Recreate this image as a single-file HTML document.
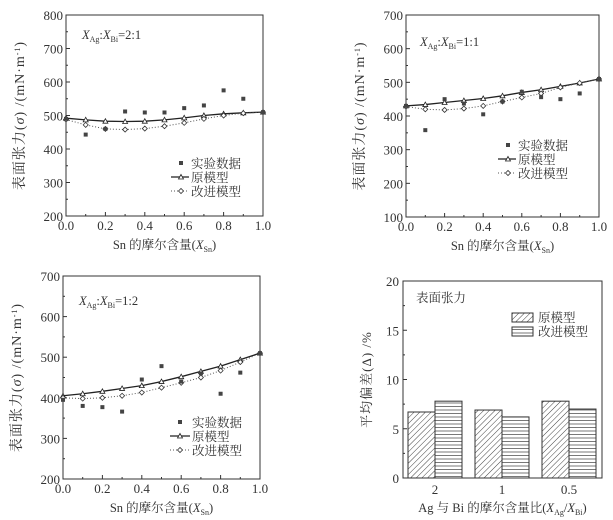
<!DOCTYPE html>
<html><head><meta charset="utf-8"><style>
html,body{margin:0;padding:0;background:#fff;}
svg{display:block;font-family:"Liberation Serif","Noto Serif CJK SC",serif;}
</style></head><body>
<svg id="s" width="613" height="520" xmlns="http://www.w3.org/2000/svg">
<defs>
<pattern id="diag" width="4" height="4" patternUnits="userSpaceOnUse" patternTransform="rotate(45)"><rect width="4" height="4" fill="#fff"/><line x1="0" y1="0" x2="0" y2="4" stroke="#444" stroke-width="1"/></pattern>
<pattern id="hor" width="4" height="3.5" patternUnits="userSpaceOnUse"><rect width="4" height="3.5" fill="#fff"/><line x1="0" y1="0.5" x2="4" y2="0.5" stroke="#555" stroke-width="0.8"/></pattern>
</defs>
</svg>
<script>
const S=document.getElementById('s');let h='';
function panel(o){
 const {x0,x1,y0,y1,ymin,ymax,exp,orig,imp,lab,leg}=o;
 const X=v=>x0+(x1-x0)*v, Y=v=>y1-(y1-y0)*(v-ymin)/(ymax-ymin);
 h+=`<rect x="${x0}" y="${y0}" width="${x1-x0}" height="${y1-y0}" fill="none" stroke="#333" stroke-width="1"/>`;
 for(let i=0;i<=10;i++){let xx=X(i/10);h+=`<line x1="${xx}" y1="${y1}" x2="${xx}" y2="${y1-(i%2?2:4)}" stroke="#333"/>`;
  if(i%2==0)h+=`<text x="${xx}" y="${y1+14}" font-size="13" text-anchor="middle" fill="#333">${(i/10).toFixed(1)}</text>`;}
 for(let v=ymin;v<=ymax;v+=50){let yy=Y(v);h+=`<line x1="${x0}" y1="${yy}" x2="${x0+(v%100?2:4)}" y2="${yy}" stroke="#333"/>`;
  if(v%100==0)h+=`<text x="${x0-3}" y="${yy+5}" font-size="13" text-anchor="end" fill="#333">${v}</text>`;}
 h+=`<text x="${(x0+x1)/2}" y="${y1+33}" font-size="12.5" text-anchor="middle" fill="#333">Sn 的摩尔含量(<tspan font-style="italic">X</tspan><tspan font-size="8" dy="3">Sn</tspan><tspan dy="-3">)</tspan></text>`;
 h+=`<text transform="translate(${x0-42},${(y0+y1)/2}) rotate(-90)" font-size="14" letter-spacing="1" text-anchor="middle" fill="#333">表面张力(<tspan font-style="italic">σ</tspan>) /(mN·m<tspan font-size="8" dy="-4">-1</tspan><tspan dy="4">)</tspan></text>`;
 h+=`<text x="${lab[0]}" y="${lab[1]}" font-size="12.5" fill="#333"><tspan font-style="italic">X</tspan><tspan font-size="8" dy="3">Ag</tspan><tspan dy="-3">:</tspan><tspan font-style="italic">X</tspan><tspan font-size="8" dy="3">Bi</tspan><tspan dy="-3">=${lab[2]}</tspan></text>`;
 let p=orig.map((v,i)=>X(i/10)+','+Y(v)).join(' ');
 h+=`<polyline points="${p}" fill="none" stroke="#222" stroke-width="1.3"/>`;
 let q=imp.map((v,i)=>X(i/10)+','+Y(v)).join(' ');
 h+=`<polyline points="${q}" fill="none" stroke="#555" stroke-width="1" stroke-dasharray="1,2"/>`;
 orig.forEach((v,i)=>{let a=X(i/10),b=Y(v);h+=`<path d="M${a-2.5},${b+2} L${a},${b-2.5} L${a+2.5},${b+2} Z" fill="#fff" stroke="#222" stroke-width="0.8"/>`;});
 imp.forEach((v,i)=>{let a=X(i/10),b=Y(v);h+=`<path d="M${a-2.5},${b} L${a},${b-2.5} L${a+2.5},${b} L${a},${b+2.5} Z" fill="#fff" stroke="#333" stroke-width="0.8"/>`;});
 exp.forEach(([u,v])=>{h+=`<rect x="${X(u)-2}" y="${Y(v)-2}" width="4" height="4" fill="#444"/>`;});
 const [lx,ly,tx]=leg;
 h+=`<rect x="${lx-2}" y="${ly-2}" width="4" height="4" fill="#444"/><text x="${tx}" y="${ly+5}" font-size="12.5" fill="#333">实验数据</text>`;
 h+=`<line x1="${lx-10}" y1="${ly+14}" x2="${tx-2}" y2="${ly+14}" stroke="#222" stroke-width="1.3"/><path d="M${lx-2.5},${ly+16} L${lx},${ly+11.5} L${lx+2.5},${ly+16} Z" fill="#fff" stroke="#222" stroke-width="0.8"/><text x="${tx}" y="${ly+19}" font-size="12.5" fill="#333">原模型</text>`;
 h+=`<line x1="${lx-10}" y1="${ly+28}" x2="${tx-2}" y2="${ly+28}" stroke="#555" stroke-dasharray="1,2"/><path d="M${lx-2.5},${ly+28} L${lx},${ly+25.5} L${lx+2.5},${ly+28} L${lx},${ly+30.5} Z" fill="#fff" stroke="#333" stroke-width="0.8"/><text x="${tx}" y="${ly+33}" font-size="12.5" fill="#333">改进模型</text>`;
}
panel({x0:66,x1:263,y0:15,y1:216,ymin:200,ymax:800,
 exp:[[0,490],[.1,443],[.2,460],[.3,512],[.4,509],[.5,509],[.6,522],[.7,530],[.8,575],[.9,550],[1,510]],
 orig:[492,487,483,482,483,487,493,500,505,508,510],
 imp:[488,472,460,458,461,468,478,490,500,507,510],
 lab:[82,39,"2:1"],leg:[181,163,191]});
panel({x0:406,x1:599,y0:15,y1:217,ymin:100,ymax:700,
 exp:[[0,430],[.1,358],[.2,450],[.3,437],[.4,405],[.5,443],[.6,472],[.7,456],[.8,450],[.9,467],[1,510]],
 orig:[430,434,440,446,452,460,470,478,488,498,510],
 imp:[428,420,418,422,430,443,455,467,485,498,510],
 lab:[420,46,"1:1"],leg:[508,145,518]});
panel({x0:63,x1:260,y0:276,y1:479,ymin:200,ymax:700,
 exp:[[0,395],[.1,380],[.2,377],[.3,366],[.4,445],[.5,478],[.6,440],[.7,460],[.8,410],[.9,462],[1,510]],
 orig:[405,410,416,423,430,440,452,465,478,494,510],
 imp:[400,398,400,405,413,425,437,450,467,488,510],
 lab:[79,305,"1:2"],leg:[180,422,192]});
const bx0=403,bx1=602,by0=281,by1=478,BY=v=>by1-(by1-by0)*v/20;
h+=`<rect x="${bx0}" y="${by0}" width="${bx1-bx0}" height="${by1-by0}" fill="none" stroke="#333"/>`;
for(let v=0;v<=20;v+=2.5){let yy=BY(v);h+=`<line x1="${bx0}" y1="${yy}" x2="${bx0+(v%5?2:4)}" y2="${yy}" stroke="#333"/>`;if(v%5==0)h+=`<text x="${bx0-4}" y="${yy+5}" font-size="13" text-anchor="end" fill="#333">${v}</text>`;}
[[408,6.7,7.8,"2"],[475,6.9,6.2,"1"],[542,7.8,7.0,"0.5"]].forEach(([x,a,b,l])=>{
 h+=`<rect x="${x}" y="${BY(a)}" width="27" height="${by1-BY(a)}" fill="url(#diag)" stroke="#333"/>`;
 h+=`<rect x="${x+27}" y="${BY(b)}" width="27" height="${by1-BY(b)}" fill="url(#hor)" stroke="#333"/>`;
 h+=`<line x1="${x+27}" y1="${by1}" x2="${x+27}" y2="${by1-4}" stroke="#333"/>`;
 h+=`<text x="${x+27}" y="${by1+16}" font-size="13" text-anchor="middle" fill="#333">${l}</text>`;});
h+=`<text x="416" y="302" font-size="12.5" fill="#333">表面张力</text>`;
h+=`<rect x="512" y="313" width="21" height="9" fill="url(#diag)" stroke="#333"/><text x="538" y="322" font-size="12.5" fill="#333">原模型</text>`;
h+=`<rect x="512" y="327" width="21" height="9" fill="url(#hor)" stroke="#333"/><text x="538" y="336" font-size="12.5" fill="#333">改进模型</text>`;
h+=`<text x="${(bx0+bx1)/2}" y="512" font-size="12.5" text-anchor="middle" fill="#333">Ag 与 Bi 的摩尔含量比(<tspan font-style="italic">X</tspan><tspan font-size="8" dy="3">Ag</tspan><tspan dy="-3">/</tspan><tspan font-style="italic">X</tspan><tspan font-size="8" dy="3">Bi</tspan><tspan dy="-3">)</tspan></text>`;
h+=`<text transform="translate(371,${(by0+by1)/2}) rotate(-90)" font-size="13" letter-spacing="1" text-anchor="middle" fill="#333">平均偏差(Δ) /%</text>`;
S.insertAdjacentHTML('beforeend',h);
</script>
</body></html>
